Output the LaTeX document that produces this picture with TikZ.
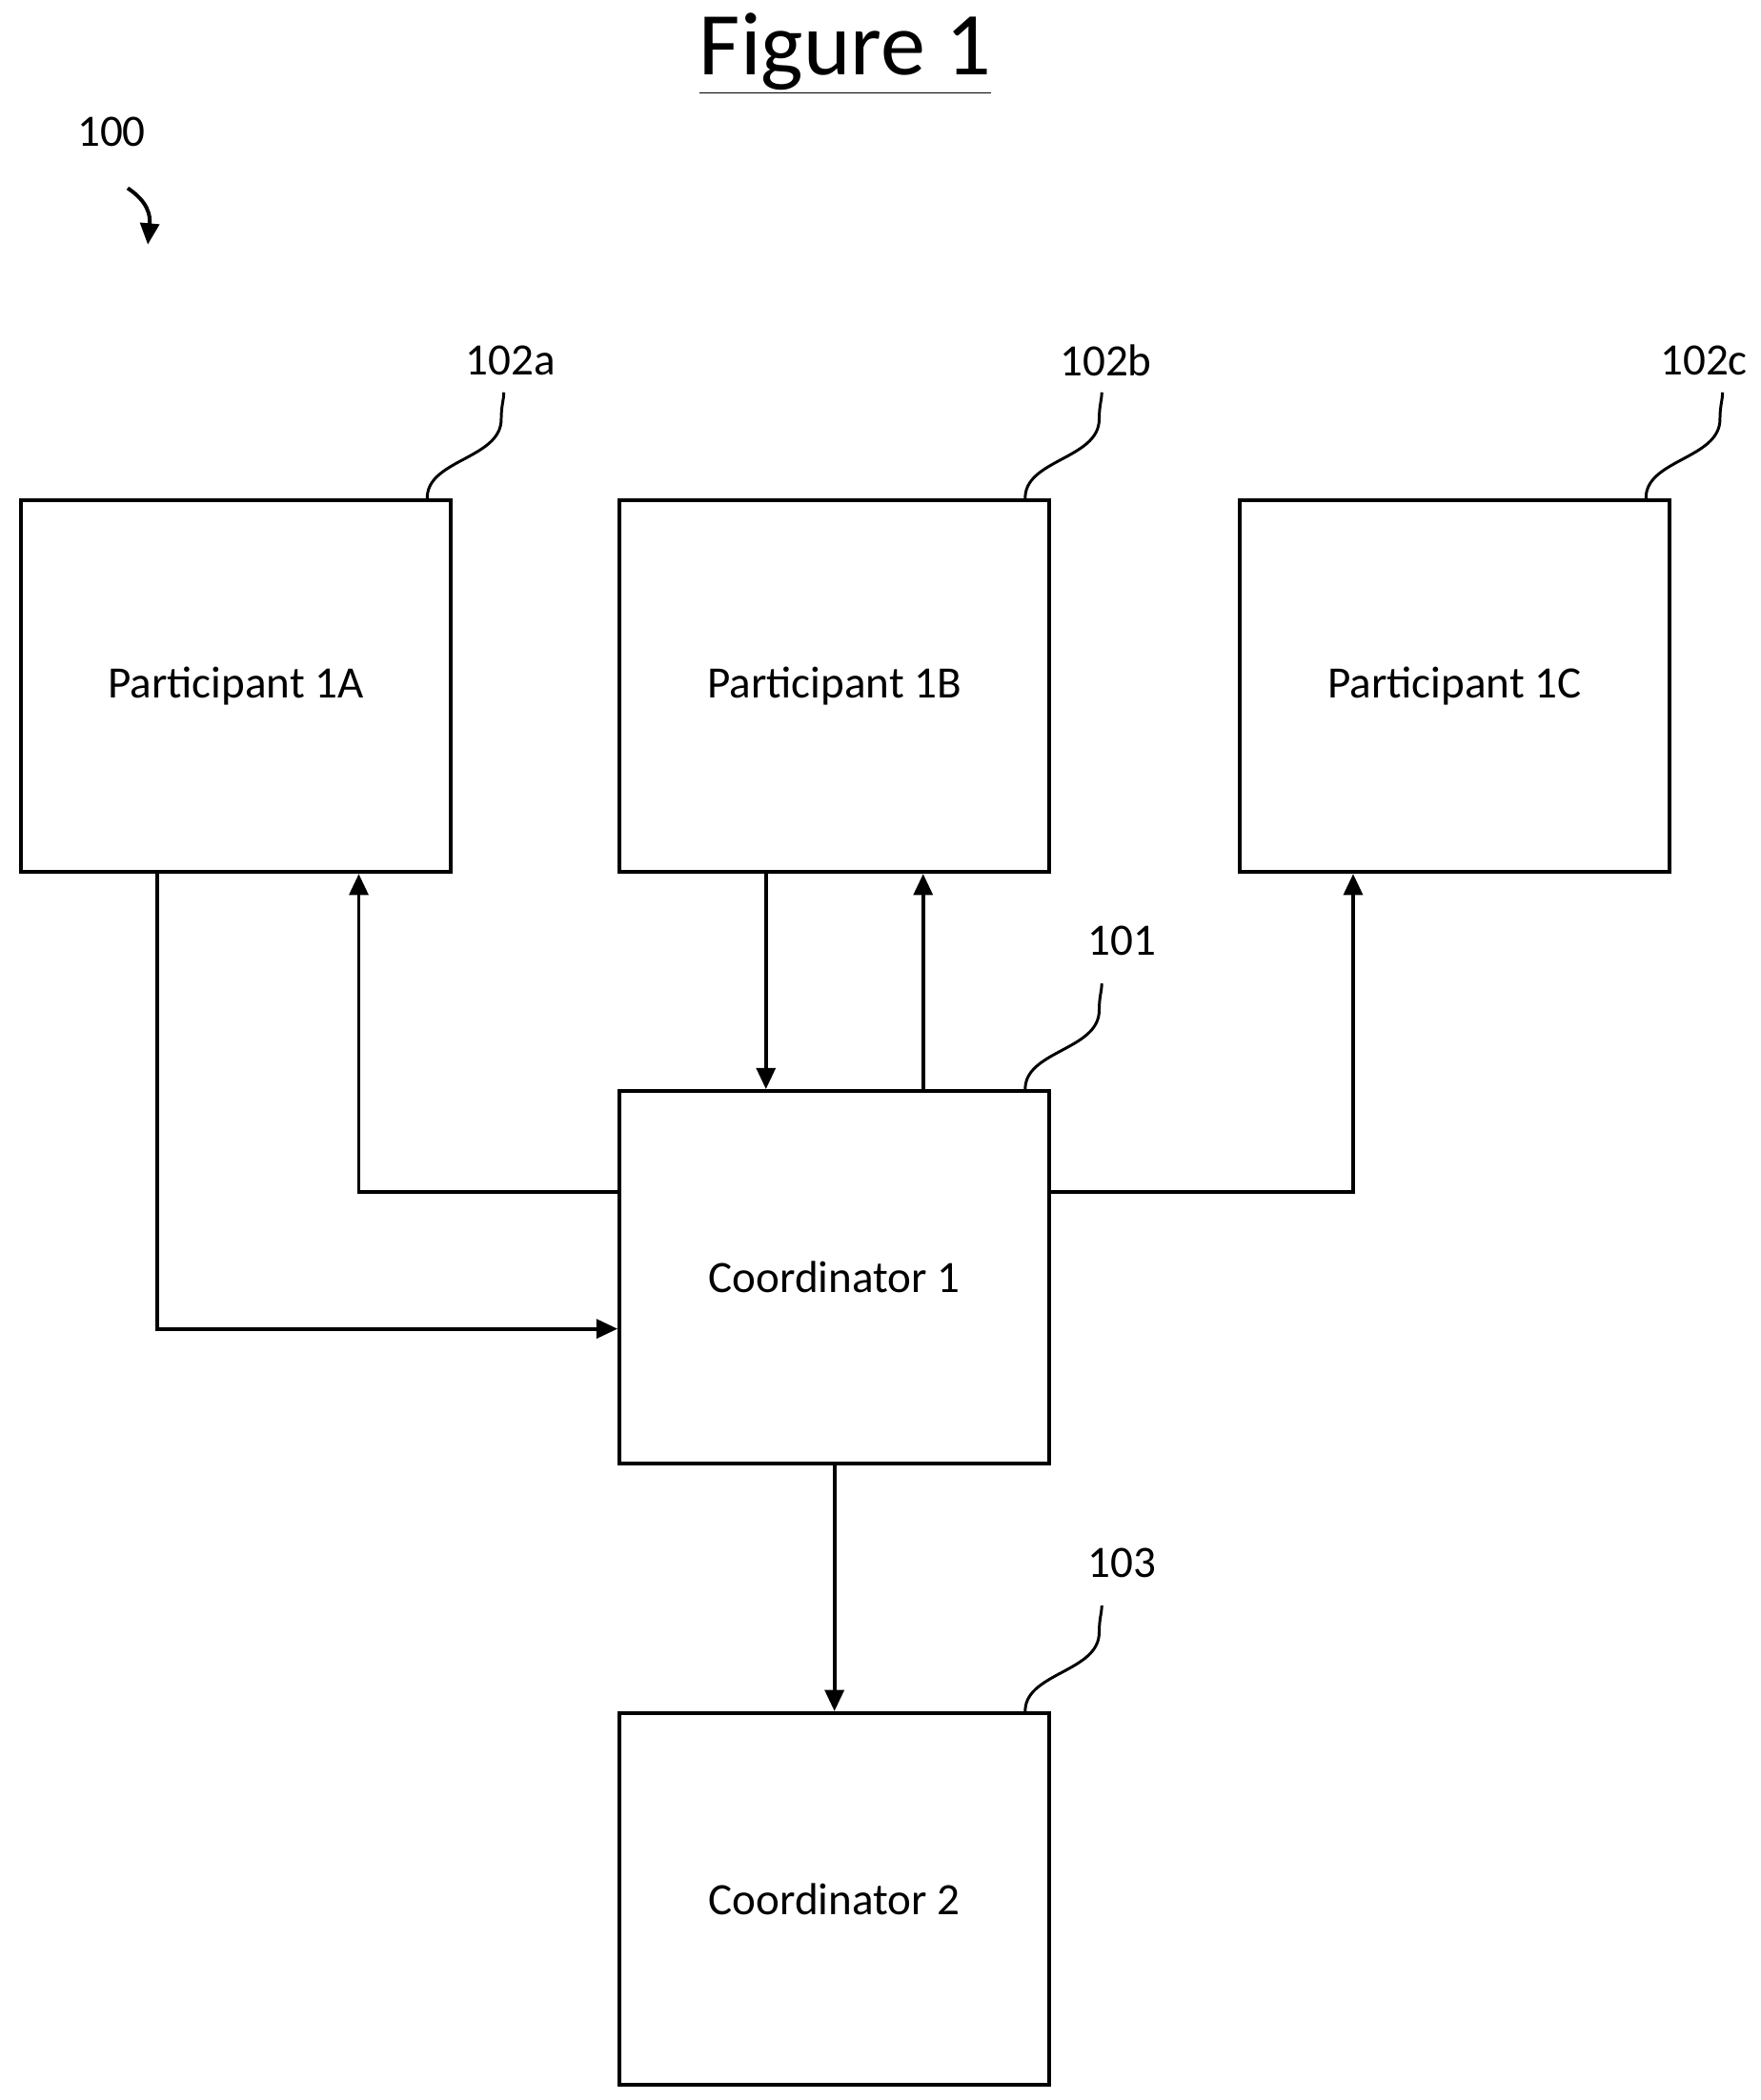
\documentclass[tikz,border=0pt]{standalone}
\usepackage{fontspec}
\setmainfont{Carlito}
\usetikzlibrary{arrows.meta}
\begin{document}
\begin{tikzpicture}[x=0.02cm,y=-0.02cm,
  box/.style={draw,line width=1.6pt,minimum width=6.4cm,minimum height=5.54cm,inner sep=0pt,font=\fontsize{19}{22}\selectfont},
  lab/.style={font=\fontsize{19}{22}\selectfont},
  conn/.style={line width=1.6pt,-{Triangle[length=9pt,width=8pt]}},
  sq/.style={line width=1.2pt}]
\useasboundingbox (0,0) rectangle (1310,1563);
\node[font=\fontsize{38}{44}\selectfont] (title) at (629,40) {\underline{Figure 1}};
\node[lab] (l100) at (83,98) {100};
\coordinate (a100s) at (95,140);
\coordinate (a100e) at (110,182);
\draw[line width=1.6pt,-{Triangle[length=9pt,width=8pt]}] (a100s) .. controls (110,150) and (112,160) .. (a100e);
\node[box] (pA) at (175.5,510.5) {Participant 1A};
\node[box] (pB) at (621,510.5) {Participant 1B};
\node[box] (pC) at (1082.5,510.5) {Participant 1C};
\node[box] (c1) at (621,950.5) {Coordinator 1};
\node[box] (c2) at (621,1413.5) {Coordinator 2};
\node[lab] (l102a) at (380,268) {102a};
\node[lab] (l102b) at (823,268) {102b};
\node[lab] (l102c) at (1268,268) {102c};
\node[lab] (l101) at (835,700) {101};
\node[lab] (l103) at (835,1163) {103};
\foreach \x/\y in {318/372,763/372,1225/372,763/812,763/1275}
  \draw[sq] (\x,\y) .. controls (\x-2,\y-30) and (\x+55,\y-30) .. (\x+55,\y-60) .. controls (\x+55,\y-70) and (\x+57,\y-75) .. (\x+57,\y-80);
\draw[conn] (pA.south -| 117,0) |- (c1.west |- 0,989);
\draw[conn] (c1.west |- 0,887) -| (pA.south -| 267,0);
\draw[conn] (pB.south -| 570,0) -- (c1.north -| 570,0);
\draw[conn] (c1.north -| 687,0) -- (pB.south -| 687,0);
\draw[conn] (c1.east |- 0,887) -| (pC.south -| 1007,0);
\draw[conn] (c1.south) -- (c2.north);
\end{tikzpicture}
\end{document}
